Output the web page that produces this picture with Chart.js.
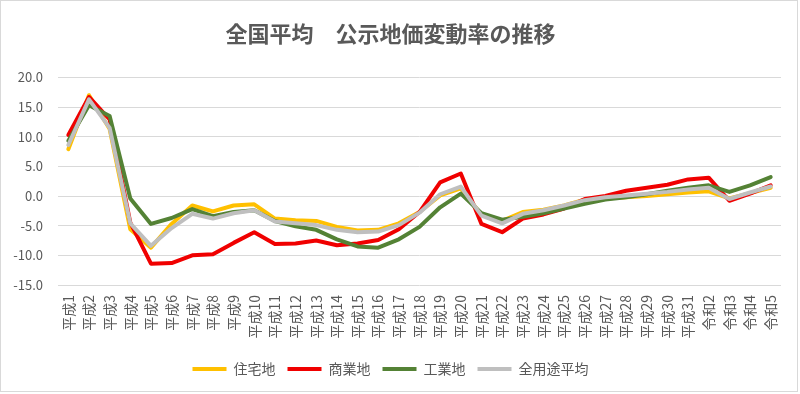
<!DOCTYPE html>
<html>
<head>
<meta charset="utf-8">
<script src="https://cdn.jsdelivr.net/npm/chart.js@4/dist/chart.umd.min.js"></script>
<style>
  html, body { margin: 0; padding: 0; background: #fff; }
  #wrap { position: relative; width: 800px; height: 394px; }
  #frame { position: absolute; left: 0; top: 0; width: 796px; height: 390px; border: 1.5px solid #d9d9d9; pointer-events: none; }
  canvas { position: absolute; left: 0; top: 0; }
</style>
</head>
<body>
<div id="wrap">
  <canvas id="chart" width="800" height="394"></canvas>
  <div id="frame"></div>
</div>
<script>
// 年次ラベル
var years = ['平成1','平成2','平成3','平成4','平成5','平成6','平成7','平成8','平成9','平成10',
  '平成11','平成12','平成13','平成14','平成15','平成16','平成17','平成18','平成19','平成20',
  '平成21','平成22','平成23','平成24','平成25','平成26','平成27','平成28','平成29','平成30',
  '平成31','令和2','令和3','令和4','令和5'];

// 変動率（%）
var residential = [7.9, 17.0, 11.3, -5.6, -8.7, -4.7, -1.6, -2.6, -1.6, -1.4,
  -3.8, -4.1, -4.2, -5.2, -5.8, -5.7, -4.6, -2.7, 0.1, 1.3,
  -3.2, -4.2, -2.7, -2.3, -1.6, -0.6, -0.4, -0.2, 0.0, 0.3,
  0.6, 0.8, -0.4, 0.5, 1.4];
var commercial = [10.3, 16.7, 12.9, -4.5, -11.4, -11.3, -10.0, -9.8, -7.9, -6.1,
  -8.1, -8.0, -7.5, -8.3, -8.0, -7.4, -5.6, -2.7, 2.3, 3.8,
  -4.7, -6.1, -3.8, -3.1, -2.1, -0.5, 0.0, 0.9, 1.4, 1.9,
  2.8, 3.1, -0.8, 0.4, 1.8];
var industrial = [9.3, 15.3, 13.5, -0.4, -4.7, -3.7, -2.2, -3.4, -2.7, -2.4,
  -4.2, -5.1, -5.7, -7.3, -8.5, -8.7, -7.3, -5.2, -1.9, 0.4,
  -2.9, -4.0, -3.5, -2.9, -2.1, -1.3, -0.6, -0.2, 0.3, 0.9,
  1.4, 1.8, 0.7, 1.8, 3.2];
var allUse = [8.6, 16.3, 11.5, -4.6, -8.4, -5.4, -3.0, -3.8, -2.9, -2.4,
  -4.3, -4.6, -4.9, -5.7, -6.1, -6.0, -4.9, -2.8, 0.3, 1.6,
  -3.3, -4.6, -3.0, -2.4, -1.6, -0.7, -0.2, 0.1, 0.4, 0.7,
  1.1, 1.4, -0.5, 0.6, 1.6];

var yTicks = [-15, -10, -5, 0, 5, 10, 15, 20];

var font = '"Noto Sans CJK JP", "Noto Sans", sans-serif';
var textColor = '#595959';

function series(label, data, color, order) {
  return {
    label: label,
    data: data,
    borderColor: color,
    backgroundColor: color,
    borderWidth: 4,
    pointRadius: 0,
    tension: 0,
    borderJoinStyle: 'round',
    borderCapStyle: 'round',
    order: order
  };
}

var ctx = document.getElementById('chart').getContext('2d');
new Chart(ctx, {
  type: 'line',
  data: {
    labels: years,
    datasets: [
      series('住宅地', residential, '#FFC000', 4),
      series('商業地', commercial, '#F00000', 3),
      series('工業地', industrial, '#548235', 2),
      series('全用途平均', allUse, '#BFBFBF', 1)
    ]
  },
  options: {
    responsive: false,
    animation: false,
    devicePixelRatio: 1,
    layout: { padding: { left: 0, right: 19, top: 0, bottom: 8 } },
    plugins: {
      title: {
        display: true,
        text: '全国平均　公示地価変動率の推移',
        color: textColor,
        font: { family: font, size: 22, weight: 'bold' },
        padding: { top: 20, bottom: 31 }
      },
      legend: {
        position: 'bottom',
        labels: {
          usePointStyle: true,
          pointStyle: 'line',
          pointStyleWidth: 34,
          color: textColor,
          font: { family: font, size: 14 },
          padding: 12,
          sort: function (a, b) { return a.datasetIndex - b.datasetIndex; }
        }
      },
      tooltip: { enabled: false }
    },
    scales: {
      x: {
        offset: true,
        grid: { display: false, drawTicks: false },
        border: { display: false },
        ticks: {
          autoSkip: false,
          minRotation: 90,
          maxRotation: 90,
          padding: 10,
          color: textColor,
          font: { family: font, size: 14 }
        },
        afterFit: function (scale) { scale.height = 65; }
      },
      y: {
        min: -15,
        max: 20,
        grid: { color: '#d9d9d9', lineWidth: 1, drawTicks: false },
        border: { display: false },
        afterBuildTicks: function (scale) {
          scale.ticks = yTicks.map(function (v) { return { value: v }; });
        },
        ticks: {
          padding: 15,
          color: textColor,
          font: { family: font, size: 13 },
          callback: function (v) { return Number(v).toFixed(1); }
        },
        afterFit: function (scale) { scale.width = 58; }
      }
    }
  }
});
</script>
</body>
</html>
